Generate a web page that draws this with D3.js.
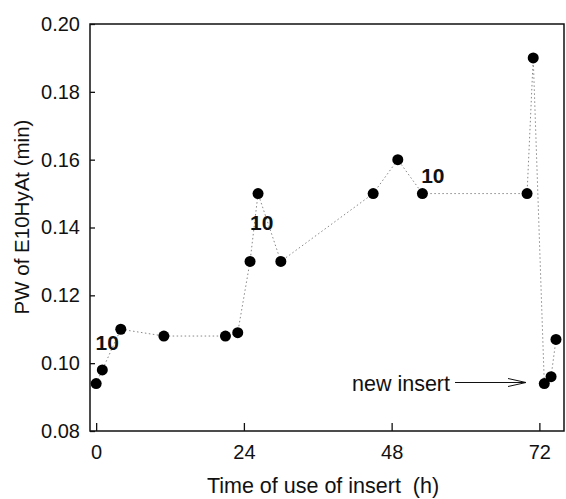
<!DOCTYPE html>
<html><head><meta charset="utf-8">
<script src="https://cdn.jsdelivr.net/npm/d3@7"></script>
<style>
html,body{margin:0;padding:0;background:#fff;}
svg{display:block;font-family:"Liberation Sans",Arial,sans-serif;}
</style></head>
<body>
<svg id="c" width="566" height="499"></svg>
<script>
const hours = [0, 1, 4, 11, 21, 23, 25, 26.3, 30, 45, 49, 53, 70, 71, 72.8, 73.9, 74.7];
const pw    = [0.094, 0.098, 0.110, 0.108, 0.108, 0.109, 0.130, 0.150, 0.130, 0.150, 0.160, 0.150, 0.150, 0.190, 0.094, 0.096, 0.107];
const xTicks = [0, 24, 48, 72];
const yTicks = [0.08, 0.10, 0.12, 0.14, 0.16, 0.18, 0.20];
const labels10 = [{t: 1.8, v: 0.1039}, {t: 26.9, v: 0.1393}, {t: 54.7, v: 0.1531}];

const svg = d3.select("#c");
const L = 90, R = 564, T = 24, B = 431;
const x = d3.scaleLinear().domain([-1, 76]).range([L, R]);
const y = d3.scaleLinear().domain([0.08, 0.20]).range([B, T]);

svg.append("rect").attr("x", L).attr("y", T).attr("width", R - L).attr("height", B - T)
  .attr("fill", "none").attr("stroke", "#111").attr("stroke-width", 1.5);

const xa = svg.append("g").attr("transform", `translate(0,${B})`)
  .call(d3.axisBottom(x).tickValues(xTicks).tickSize(-8).tickPadding(14).tickFormat(d3.format("d")));
const ya = svg.append("g").attr("transform", `translate(${L},0)`)
  .call(d3.axisLeft(y).tickValues(yTicks).tickSize(-5).tickPadding(10).tickFormat(d3.format(".2f")));
[xa, ya].forEach(g => {
  g.select(".domain").remove();
  g.selectAll(".tick line").attr("stroke", "#111").attr("stroke-width", 1.3);
  g.selectAll(".tick text").attr("fill", "#111").style("font-size", "20px")
    .style("font-family", "'Liberation Sans',Arial,sans-serif");
});

const pts = hours.map((h, i) => [h, pw[i]]);
svg.append("path").datum(pts)
  .attr("d", d3.line().x(d => x(d[0])).y(d => y(d[1])))
  .attr("fill", "none").attr("stroke", "#888").attr("stroke-width", 1)
  .attr("stroke-dasharray", "1.5,2.5");

svg.append("g").selectAll("circle").data(pts).join("circle")
  .attr("cx", d => x(d[0])).attr("cy", d => y(d[1])).attr("r", 5.5).attr("fill", "#000");

svg.append("g").selectAll("text").data(labels10).join("text")
  .attr("x", d => x(d.t)).attr("y", d => y(d.v))
  .attr("text-anchor", "middle").style("font-size", "21px").style("font-weight", "bold")
  .attr("fill", "#111").text("10");

svg.append("text").attr("x", 352).attr("y", 391).style("font-size", "21.5px").attr("fill", "#111").text("new insert");
const ay = 382.5;
svg.append("line").attr("x1", 455).attr("y1", ay).attr("x2", 526).attr("y2", ay)
  .attr("stroke", "#111").attr("stroke-width", 1);
svg.append("path").attr("d", `M508,${ay-4} L526,${ay} L508,${ay+4}`)
  .attr("fill", "none").attr("stroke", "#111").attr("stroke-width", 1);

svg.append("text").attr("x", 323).attr("y", 493).attr("text-anchor", "middle")
  .style("font-size", "21.5px").attr("fill", "#111").attr("xml:space", "preserve").text("Time of use of insert  (h)");
svg.append("text").attr("transform", "translate(29,217) rotate(-90)").attr("text-anchor", "middle")
  .style("font-size", "20.5px").attr("fill", "#111").text("PW of E10HyAt (min)");
</script>
</body></html>
